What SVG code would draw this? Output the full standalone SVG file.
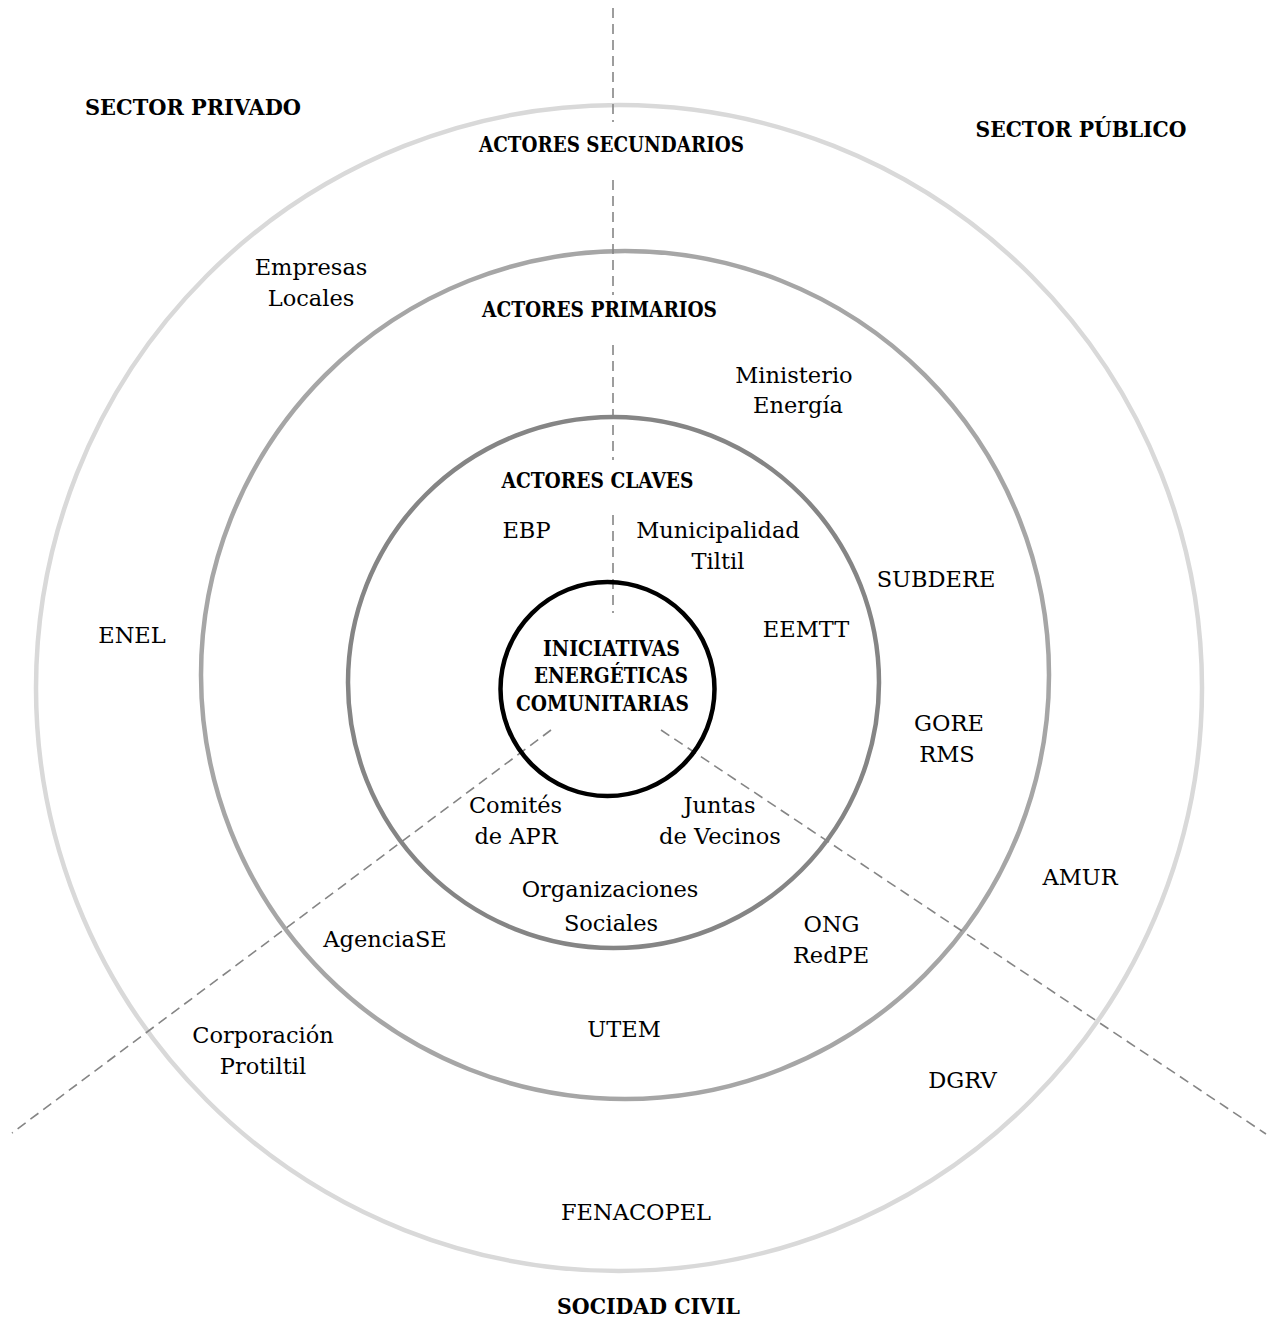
<svg xmlns="http://www.w3.org/2000/svg" width="1272" height="1321" viewBox="0 0 1272 1321">
<style>
.ring{fill:none}
.r1{stroke:#d9d9d9;stroke-width:4.5}
.r2{stroke:#a6a6a6;stroke-width:4.5}
.r3{stroke:#858585;stroke-width:4.5}
.r4{stroke:#000;stroke-width:4.5;fill:none}
.dash{stroke:#858585;stroke-width:1.6;stroke-dasharray:10 6;fill:none}
text{font-family:"DejaVu Serif","Liberation Serif",serif;font-size:22.5px;fill:#000;text-anchor:middle}
.b{font-weight:bold}
</style>
<rect width="1272" height="1321" fill="#fff"/>
<g id="ring-secundarios"><circle class="ring r1" cx="619" cy="688" r="583"/></g>
<g id="ring-primarios"><circle class="ring r2" cx="625" cy="675" r="424"/></g>
<g id="ring-claves"><circle class="ring r3" cx="613.5" cy="682.5" r="265.5"/></g>
<g id="connectors">
<line class="dash" x1="613" y1="8" x2="613" y2="122"/>
<line class="dash" x1="613" y1="180" x2="613" y2="295"/>
<line class="dash" x1="613" y1="345" x2="613" y2="460"/>
<line class="dash" x1="613" y1="515" x2="613" y2="613"/>
<line class="dash" x1="551" y1="730" x2="12" y2="1133"/>
<line class="dash" x1="661" y1="730" x2="1266" y2="1134"/>
</g>
<g id="centro">
<circle class="r4" cx="607.5" cy="689" r="107"/>
<text class="b" x="611.5" y="656" textLength="137" lengthAdjust="spacingAndGlyphs">INICIATIVAS</text>
<text class="b" x="611" y="683" textLength="154" lengthAdjust="spacingAndGlyphs">ENERGÉTICAS</text>
<text class="b" x="602.5" y="711" textLength="173" lengthAdjust="spacingAndGlyphs">COMUNITARIAS</text>
</g>
<g id="sector-privado"><text class="b" x="193" y="115" textLength="216" lengthAdjust="spacingAndGlyphs">SECTOR PRIVADO</text></g>
<g id="sector-publico"><text class="b" x="1081" y="137" textLength="211" lengthAdjust="spacingAndGlyphs">SECTOR PÚBLICO</text></g>
<g id="sociedad-civil"><text class="b" x="648.5" y="1314" textLength="183" lengthAdjust="spacingAndGlyphs">SOCIDAD CIVIL</text></g>
<g id="label-secundarios"><text class="b" x="611.5" y="152" textLength="265" lengthAdjust="spacingAndGlyphs">ACTORES SECUNDARIOS</text></g>
<g id="label-primarios"><text class="b" x="599.5" y="317" textLength="235" lengthAdjust="spacingAndGlyphs">ACTORES PRIMARIOS</text></g>
<g id="label-claves"><text class="b" x="597.5" y="488" textLength="192" lengthAdjust="spacingAndGlyphs">ACTORES CLAVES</text></g>
<g id="ebp"><text x="526.5" y="538">EBP</text></g>
<g id="municipalidad"><text x="718" y="538">Municipalidad</text><text x="718" y="569">Tiltil</text></g>
<g id="eemtt"><text x="806" y="637">EEMTT</text></g>
<g id="comites"><text x="515.5" y="813">Comités</text><text x="516" y="844">de APR</text></g>
<g id="juntas"><text x="719.5" y="813">Juntas</text><text x="720" y="844">de Vecinos</text></g>
<g id="organizaciones"><text x="610" y="897">Organizaciones</text><text x="611" y="931">Sociales</text></g>
<g id="empresas"><text x="311" y="275">Empresas</text><text x="311" y="306">Locales</text></g>
<g id="ministerio"><text x="794" y="383">Ministerio</text><text x="798" y="413">Energía</text></g>
<g id="subdere"><text x="936" y="587">SUBDERE</text></g>
<g id="enel"><text x="132" y="643">ENEL</text></g>
<g id="gore"><text x="949" y="731">GORE</text><text x="947" y="762">RMS</text></g>
<g id="amur"><text x="1080" y="885">AMUR</text></g>
<g id="agenciase"><text x="385" y="947">AgenciaSE</text></g>
<g id="ong"><text x="831.5" y="932">ONG</text><text x="831" y="963">RedPE</text></g>
<g id="utem"><text x="624" y="1037">UTEM</text></g>
<g id="corporacion"><text x="263" y="1043">Corporación</text><text x="263" y="1074">Protiltil</text></g>
<g id="dgrv"><text x="962.5" y="1088">DGRV</text></g>
<g id="fenacopel"><text x="636" y="1220">FENACOPEL</text></g>
</svg>
